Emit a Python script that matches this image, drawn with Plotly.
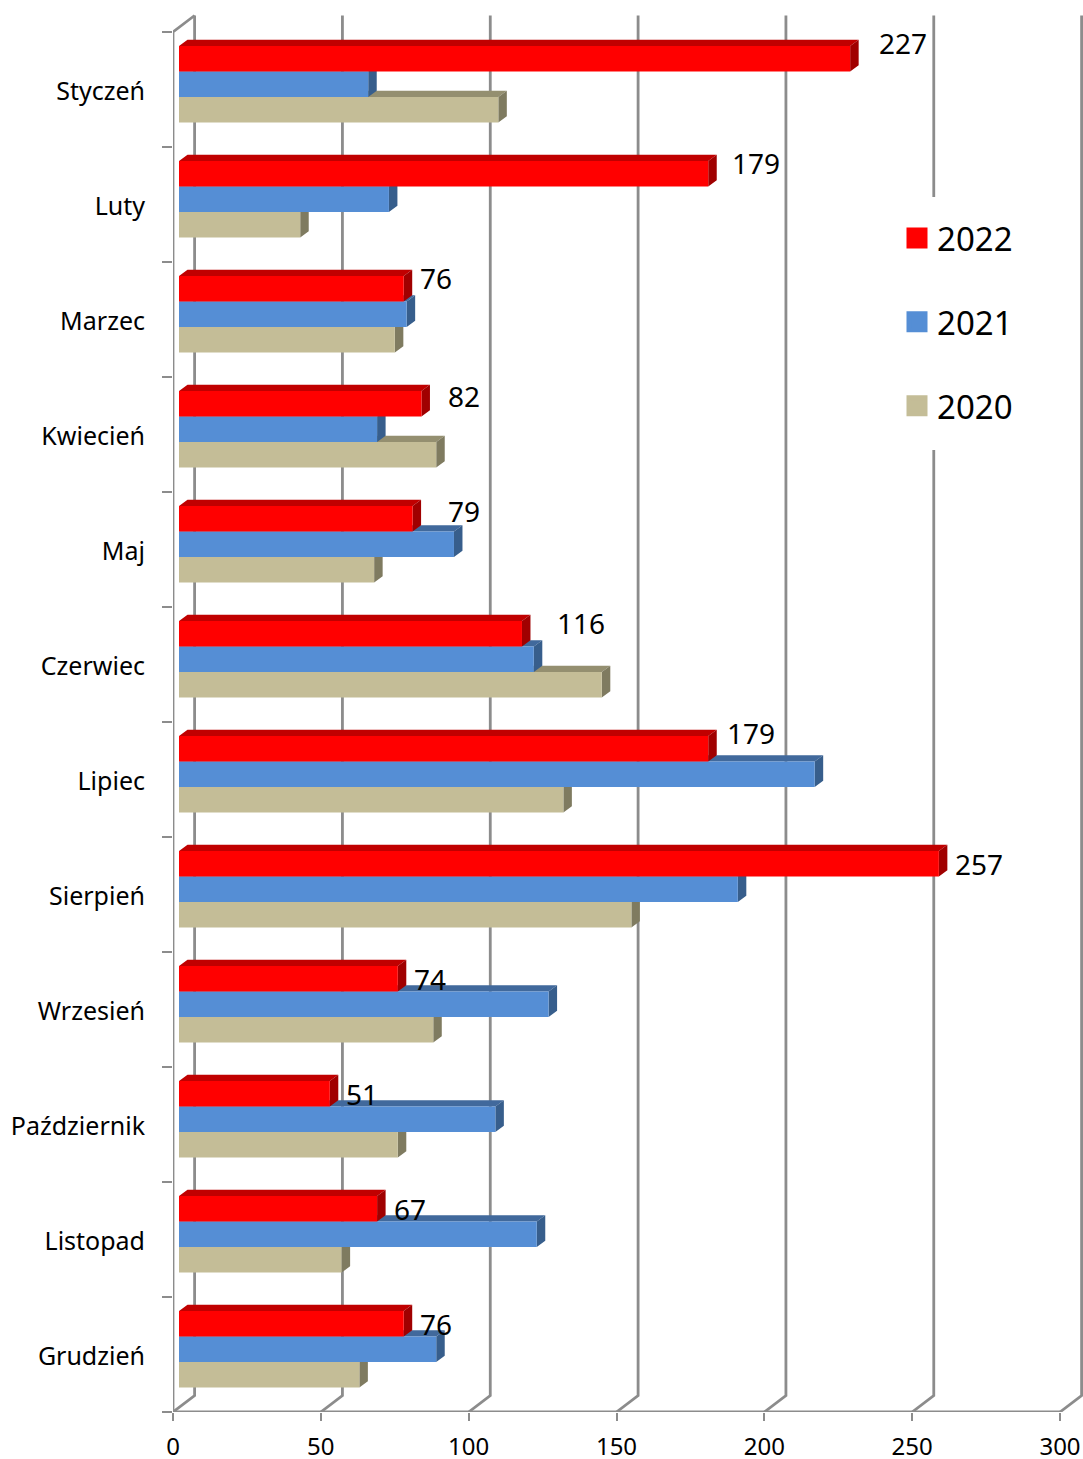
import plotly.graph_objects as go

months = ["Styczeń", "Luty", "Marzec", "Kwiecień", "Maj", "Czerwiec", "Lipiec",
          "Sierpień", "Wrzesień", "Październik", "Listopad", "Grudzień"]
y2022 = [227, 179, 76, 82, 79, 116, 179, 257, 74, 51, 67, 76]
y2021 = [64, 71, 77, 67, 93, 120, 215, 189, 125, 107, 121, 87]
y2020 = [108, 41, 73, 87, 66, 143, 130, 153, 86, 74, 55, 61]
x_ticks = [0, 50, 100, 150, 200, 250, 300]

# label nudges, in pixels, from the bar end and the band centre
label_dx = [53, 48, 32, 43, 51, 59, 43, 40, 32, 32, 33, 32]
label_dy = [46.5, 41.5, 41.5, 38.5, 38.5, 41.5, 46.5, 30.5, 30.5, 30.5, 30.5, 30.5]

W, H = 1083, 1459
FRONT_L, FRONT_R, FRONT_T, FRONT_B = 173, 1060, 32, 1412   # front plane of the chart box
T_MARGIN = 12
PX_X = (FRONT_R - FRONT_L) / 300
PX_Y = (FRONT_B - FRONT_T) / 12

BAR_BASE = 6 / PX_X
BAR_H = 25.5 / PX_Y
D_X, D_Y = 8.5 / PX_X, 6.3 / PX_Y
WALL_X, WALL_Y = 21.6 / PX_X, 16.5 / PX_Y
GRID = "#8c8c8c"
FONT = "Noto Sans"

series = [
    ("2020", y2020, 0.066, "#C4BD97", "#948F70", "#7F7B60", 1),
    ("2021", y2021, -0.156, "#558ED5", "#41699C", "#375E8C", 4),
    ("2022", y2022, -0.378, "#FF0000", "#C00000", "#A00000", 7),
]

fig = go.Figure()

# walls: floor diagonal plus vertical gridline per tick, then the front axis lines
gx, gy = [], []
for t in x_ticks:
    gx += [t, t + WALL_X, t + WALL_X, None]
    gy += [11.5, 11.5 - WALL_Y, -0.5 - WALL_Y, None]
gx += [WALL_X, 0, 0, x_ticks[-1], None]
gy += [-0.5 - WALL_Y, -0.5, 11.5, 11.5, None]
fig.add_trace(go.Scatter(x=gx, y=gy, mode="lines", line=dict(color=GRID, width=2.8),
                         showlegend=False, hoverinfo="skip", zorder=0))

for name, vals, off, front, top, side, z in series:
    tx, ty, sx, sy = [], [], [], []
    for i, v in enumerate(vals):
        y0 = i + off
        y1 = y0 + BAR_H
        x0 = BAR_BASE
        x1 = BAR_BASE + v
        tx += [x0, x1, x1 + D_X, x0 + D_X, x0, None]
        ty += [y0, y0, y0 - D_Y, y0 - D_Y, y0, None]
        sx += [x1, x1 + D_X, x1 + D_X, x1, x1, None]
        sy += [y0, y0 - D_Y, y1 - D_Y, y1, y0, None]
    fig.add_trace(go.Scatter(x=tx, y=ty, mode="lines", fill="toself", fillcolor=top,
                             line=dict(width=0, color=top), showlegend=False,
                             hoverinfo="skip", zorder=z))
    fig.add_trace(go.Scatter(x=sx, y=sy, mode="lines", fill="toself", fillcolor=side,
                             line=dict(width=0, color=side), showlegend=False,
                             hoverinfo="skip", zorder=z + 1))
    fig.add_trace(go.Bar(x=vals, y=list(range(12)), orientation="h", base=BAR_BASE,
                         offset=off, width=BAR_H, marker=dict(color=front, line=dict(width=0)),
                         name=name, showlegend=False, zorder=z + 2))

# legend entries
for name, vals, off, front, top, side, z in reversed(series):
    fig.add_trace(go.Scatter(x=[None], y=[None], mode="markers", name=name, legendgroup=name,
                             marker=dict(symbol="square", size=16, color=front,
                                         line=dict(color=front, width=5))))

annotations = []
for i, v in enumerate(y2022):
    annotations.append(dict(x=BAR_BASE + v, y=i, text=str(v), showarrow=False,
                            xshift=label_dx[i], yshift=label_dy[i],
                            font=dict(family=FONT, size=28, color="#000000")))

paper_x = lambda px: (px - FRONT_L) / (W - FRONT_L)
paper_y = lambda px: (FRONT_B - px) / (FRONT_B - T_MARGIN)

fig.update_layout(
    width=W, height=H,
    margin=dict(l=FRONT_L, r=0, t=T_MARGIN, b=H - FRONT_B, autoexpand=False),
    paper_bgcolor="white", plot_bgcolor="white",
    barmode="overlay",
    font=dict(family=FONT, size=24, color="#000000"),
    annotations=annotations,
    shapes=[dict(type="rect", xref="paper", yref="paper", layer="above",
                 x0=paper_x(896), x1=paper_x(1030), y0=paper_y(450), y1=paper_y(197),
                 fillcolor="white", line=dict(width=0))],
    legend=dict(x=paper_x(897), y=paper_y(210),
                xanchor="left", yanchor="top", bgcolor="white", borderwidth=0,
                traceorder="grouped", tracegroupgap=38, itemsizing="trace",
                font=dict(family=FONT, size=33, color="#000000")),
    xaxis=dict(range=[0, (W - FRONT_L) / PX_X], tickvals=x_ticks, showgrid=False, zeroline=False,
               showline=False, ticks="outside", ticklen=8, tickwidth=2, tickcolor=GRID,
               ticklabelstandoff=5),
    yaxis=dict(range=[11.5, -0.5 - (FRONT_T - T_MARGIN) / PX_Y], tickvals=list(range(12)),
               ticktext=months, showgrid=False, zeroline=False, showline=False,
               ticks="", ticklabelstandoff=27, ticklabelshift=-2, tickfont=dict(size=25),
               minor=dict(tickvals=[i - 0.5 for i in range(13)], ticks="outside",
                          ticklen=10, tickwidth=1.5, tickcolor=GRID, showgrid=False)),
)

fig.write_html("out.html", config={"displayModeBar": False},
               post_script="document.body.style.margin='0';document.body.style.overflow='hidden';")
